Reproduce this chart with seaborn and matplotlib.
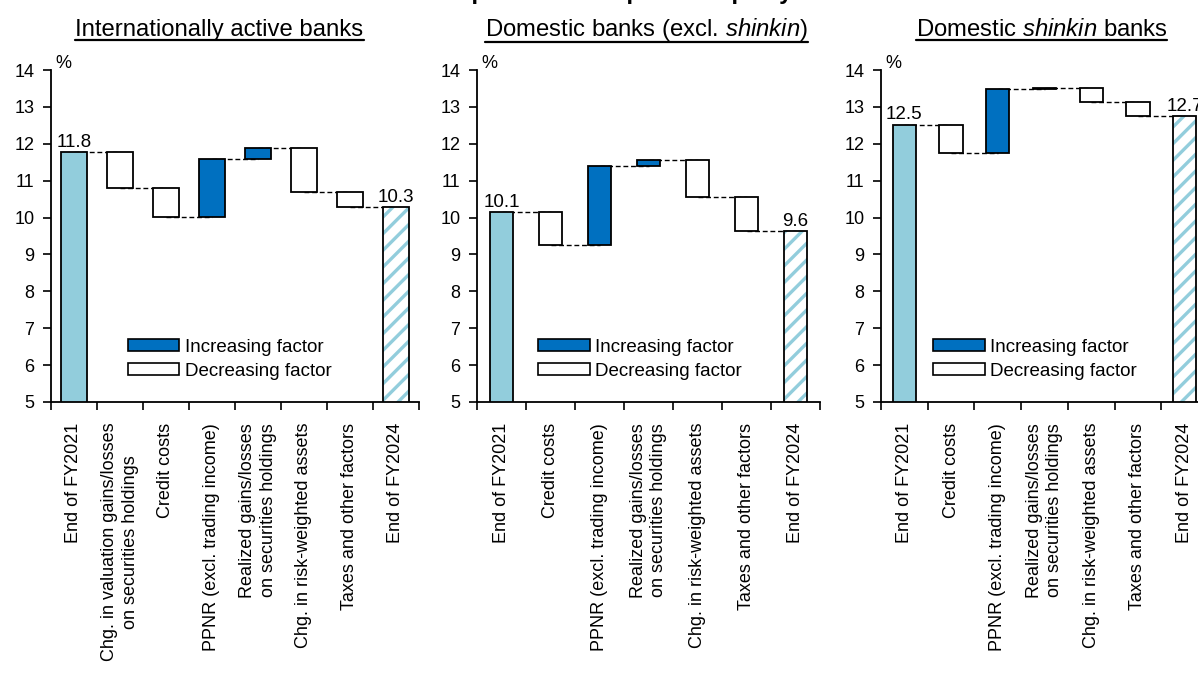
import seaborn as sns
import pandas as pd
import matplotlib.pyplot as plt
import numpy as np
from matplotlib.patches import Patch
from matplotlib.lines import Line2D

# ---- data (capital adequacy ratio, %) ----
intl_items = ["End of FY2021",
              "Chg. in valuation gains/losses\non securities holdings",
              "Credit costs",
              "PPNR (excl. trading income)",
              "Realized gains/losses\non securities holdings",
              "Chg. in risk-weighted assets",
              "Taxes and other factors",
              "End of FY2024"]
intl_start = 11.78
intl_deltas = [-0.97, -0.79, 1.56, 0.30, -1.19, -0.40]
intl_end = 10.29

dom_items = ["End of FY2021",
             "Credit costs",
             "PPNR (excl. trading income)",
             "Realized gains/losses\non securities holdings",
             "Chg. in risk-weighted assets",
             "Taxes and other factors",
             "End of FY2024"]
dom_start = 10.14
dom_deltas = [-0.88, 2.13, 0.18, -1.00, -0.94]
dom_end = 9.63

shinkin_items = dom_items
shinkin_start = 12.52
shinkin_deltas = [-0.76, 1.72, 0.04, -0.40, -0.38]
shinkin_end = 12.74

panel_titles = ["Internationally active banks",
                r"Domestic banks (excl. $\mathit{shinkin}$)",
                r"Domestic $\mathit{shinkin}$ banks"]
main_title = "Decomposition of capital adequacy ratio"

LIGHT = '#92CDDC'
BLUE = '#0070C0'

sns.set_theme(style='ticks')
plt.rcParams['font.family'] = ['Liberation Sans', 'DejaVu Sans']
plt.rcParams['mathtext.fontset'] = 'custom'
plt.rcParams['mathtext.rm'] = 'Liberation Sans'
plt.rcParams['mathtext.it'] = 'Liberation Sans:italic'
plt.rcParams['hatch.linewidth'] = 2.4
plt.rcParams['text.color'] = 'black'
plt.rcParams['xtick.color'] = 'black'
plt.rcParams['ytick.color'] = 'black'
plt.rcParams['axes.edgecolor'] = 'black'


def waterfall(ax, items, start, deltas, end, width):
    n = len(items)
    levels = np.concatenate([[start], start + np.cumsum(deltas)])
    df = pd.DataFrame({
        'item': items[1:-1],
        'low': np.minimum(levels[:-1], levels[1:]),
        'high': np.maximum(levels[:-1], levels[1:]),
        'delta': deltas,
    })
    df['size'] = df['high'] - df['low']
    up = df[df['delta'] > 0]
    down = df[df['delta'] <= 0]

    common = dict(order=items, width=width, saturation=1, errorbar=None, ax=ax)

    # connectors
    for i in range(n - 1):
        ax.plot([i, i + 1], [levels[min(i, n - 2)]] * 2, color='black', lw=1,
                ls=(0, (3.5, 2)), zorder=0.5)

    sns.barplot(x=[items[0]], y=[start], color=LIGHT, edgecolor='black', linewidth=1.3, **common)
    sns.barplot(x=up['item'], y=up['size'], bottom=up['low'].values, color=BLUE,
                edgecolor='black', linewidth=1.3, **common)
    sns.barplot(x=down['item'], y=down['size'], bottom=down['low'].values, color='white',
                edgecolor='black', linewidth=1.3, **common)
    sns.barplot(x=[items[-1]], y=[end], color='white', edgecolor=LIGHT, linewidth=0,
                hatch='//', **common)
    ax.bar(n - 1, end, width=width, facecolor='none', edgecolor='black', linewidth=1.3)

    for xi, v in [(0, start), (n - 1, end)]:
        ax.text(xi, v + 0.14, f"{v:.1f}", ha='center', va='baseline', fontsize=13.5)

    ax.set_xlim(-0.5, n - 0.5)
    ax.set_ylim(5, 14)
    ax.set_yticks(range(5, 15))
    ax.set_xticks(np.arange(n + 1) - 0.5, labels=[])
    ax.set_xticks(np.arange(n), labels=items, minor=True)
    ax.set_xlabel('')
    ax.set_ylabel('')
    ax.tick_params(axis='x', which='major', length=6, width=1.2, color='black', direction='out')
    ax.tick_params(axis='x', which='minor', length=0, pad=15, labelsize=13, labelrotation=90)
    ax.tick_params(axis='y', length=6, width=1.2, color='black', pad=6, labelsize=13)
    for lbl in ax.get_xticklabels(minor=True):
        lbl.set_multialignment('center')
        lbl.set_linespacing(1.3)
    sns.despine(ax=ax)
    for s in ['left', 'bottom']:
        ax.spines[s].set_linewidth(1.3)
        ax.spines[s].set_color('black')
    ax.text(0.013, 1.006, '%', transform=ax.transAxes, ha='left', va='baseline', fontsize=13)


fig = plt.figure(figsize=(11.98, 6.84), dpi=100)
W, H = 1198, 684
bottom = (H - 402) / H
height = 332 / H
ax1 = fig.add_axes([51 / W, bottom, 368 / W, height])
ax2 = fig.add_axes([477 / W, bottom, 343 / W, height])
ax3 = fig.add_axes([881 / W, bottom, 327 / W, height])

waterfall(ax1, intl_items, intl_start, intl_deltas, intl_end, 0.58)
waterfall(ax2, dom_items, dom_start, dom_deltas, dom_end, 0.48)
waterfall(ax3, shinkin_items, shinkin_start, shinkin_deltas, shinkin_end, 0.5)

handles = [Patch(facecolor=BLUE, edgecolor='black', linewidth=1.2, label='Increasing factor'),
           Patch(facecolor='white', edgecolor='black', linewidth=1.2, label='Decreasing factor')]
for ax, lx in [(ax1, 0.209), (ax2, 0.178), (ax3, 0.159)]:
    ax.legend(handles=handles, loc='upper left', bbox_to_anchor=(lx, 0.19), frameon=False,
              borderpad=0, borderaxespad=0, handlelength=2.75, handleheight=0.62,
              handletextpad=0.3, labelspacing=0.36, fontsize=13.5)

fig.text(392 / W, 1 + 1 / H, main_title, ha='left', va='baseline', fontsize=17.2,
         fontweight='bold')

titles = []
for cx, t in zip([219.5, 646.5, 1041.5], panel_titles):
    titles.append(fig.text(cx / W, 1 - 36 / H, t, ha='center', va='baseline', fontsize=17.2))

fig.canvas.draw()
renderer = fig.canvas.get_renderer()
inv = fig.transFigure.inverted()
for t in titles:
    bb = t.get_window_extent(renderer)
    (x0, y0), (x1, _) = inv.transform([(bb.x0, bb.y0 + 1), (bb.x1, bb.y0 + 1)])
    fig.add_artist(Line2D([x0, x1], [y0, y0], transform=fig.transFigure, color='black', lw=1.6))

fig.savefig('out.png', dpi=100)
